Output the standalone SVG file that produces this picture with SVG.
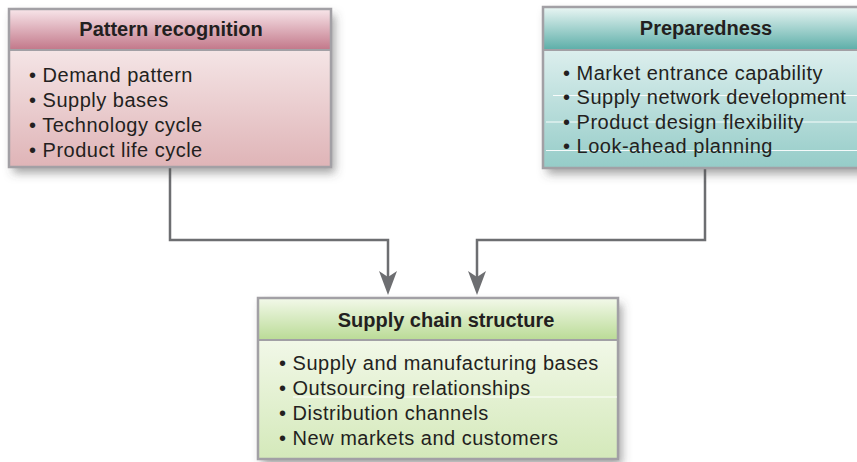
<svg xmlns="http://www.w3.org/2000/svg" width="857" height="462" viewBox="0 0 857 462">
  <style>
    .title { font-family: "Liberation Sans", Arial, sans-serif; font-weight: bold; font-size: 20px; fill: #231f20; text-anchor: middle; }
    .item { font-family: "Liberation Sans", Arial, sans-serif; font-size: 20px; fill: #231f20; letter-spacing: 0.5px; }
    .frame { fill: none; stroke: #a2a0a5; stroke-width: 2.5; }
    .sep { stroke: #a2a0a5; stroke-width: 2; }
    .conn { fill: none; stroke: #6d6e71; stroke-width: 2.5; }
    .scan { stroke: #ffffff; stroke-width: 1.2; opacity: 0.9; }
  </style>
  <defs>
    <filter id="shadow" x="-10%" y="-10%" width="130%" height="140%">
      <feDropShadow dx="4" dy="6" stdDeviation="5" flood-color="#4a4a4a" flood-opacity="0.5"/>
    </filter>
    <linearGradient id="pinkHead" x1="0" y1="0" x2="0" y2="1">
      <stop offset="0" stop-color="#f8e6ea"/>
      <stop offset="1" stop-color="#c27789"/>
    </linearGradient>
    <linearGradient id="pinkBody" x1="0" y1="0" x2="0" y2="1">
      <stop offset="0" stop-color="#fcf6f6"/>
      <stop offset="1" stop-color="#dfb4b7"/>
    </linearGradient>
    <linearGradient id="tealHead" x1="0" y1="0" x2="0" y2="1">
      <stop offset="0" stop-color="#eaf6f4"/>
      <stop offset="1" stop-color="#5caea8"/>
    </linearGradient>
    <linearGradient id="tealBody" x1="0" y1="0" x2="0" y2="1">
      <stop offset="0" stop-color="#f6fbfb"/>
      <stop offset="1" stop-color="#95ccc8"/>
    </linearGradient>
    <linearGradient id="greenHead" x1="0" y1="0" x2="0" y2="1">
      <stop offset="0" stop-color="#f3f9ea"/>
      <stop offset="1" stop-color="#badb96"/>
    </linearGradient>
    <linearGradient id="greenBody" x1="0" y1="0" x2="0" y2="1">
      <stop offset="0" stop-color="#fcfdf8"/>
      <stop offset="1" stop-color="#d4e9ba"/>
    </linearGradient>
    <marker id="arrow" viewBox="0 0 24 18" refX="19" refY="9" markerWidth="24" markerHeight="18" markerUnits="userSpaceOnUse" orient="auto">
      <path d="M0,0 L24,9 L0,18 L6,9 Z" fill="#6d6e71"/>
    </marker>
  </defs>

  <g id="connectors">
    <polyline class="conn" points="170,168 170,240 388,240 388,290" marker-end="url(#arrow)"/>
    <polyline class="conn" points="705,168 705,240 477,240 477,290" marker-end="url(#arrow)"/>
  </g>

  <g id="node-pattern">
    <g filter="url(#shadow)">
      <rect x="9" y="9" width="322" height="158" fill="url(#pinkBody)"/>
    </g>
    <rect x="9" y="9" width="322" height="41" fill="url(#pinkHead)"/>
    <line class="sep" x1="9" y1="50" x2="331" y2="50"/>
    <rect class="frame" x="9" y="9" width="322" height="158"/>
    <text class="title" x="171" y="36">Pattern recognition</text>
    <text class="item" x="29" y="82">• Demand pattern</text>
    <text class="item" x="29" y="107">• Supply bases</text>
    <text class="item" x="29" y="132">• Technology cycle</text>
    <text class="item" x="29" y="157">• Product life cycle</text>
  </g>

  <g id="node-preparedness">
    <g filter="url(#shadow)">
      <rect x="543" y="7" width="330" height="161" fill="url(#tealBody)"/>
    </g>
    <rect x="543" y="7" width="330" height="43" fill="url(#tealHead)"/>
    <line class="sep" x1="543" y1="50" x2="873" y2="50"/>
    <rect class="frame" x="543" y="7" width="330" height="161"/>
    <line class="scan" x1="553" y1="95.5" x2="857" y2="95.5"/>
    <line class="scan" x1="546" y1="122" x2="857" y2="122"/>
    <line class="scan" x1="546" y1="150.5" x2="857" y2="150.5"/>
    <text class="title" x="706" y="35">Preparedness</text>
    <text class="item" x="563" y="80">• Market entrance capability</text>
    <text class="item" x="563" y="104">• Supply network development</text>
    <text class="item" x="563" y="128.5">• Product design flexibility</text>
    <text class="item" x="563" y="153">• Look-ahead planning</text>
  </g>

  <g id="node-supply">
    <g filter="url(#shadow)">
      <rect x="258" y="298" width="360" height="161" fill="url(#greenBody)"/>
    </g>
    <rect x="258" y="298" width="360" height="42" fill="url(#greenHead)"/>
    <line class="sep" x1="258" y1="340" x2="618" y2="340"/>
    <rect class="frame" x="258" y="298" width="360" height="161"/>
    <line class="scan" x1="293" y1="397" x2="617" y2="397"/>
    <text class="title" x="446" y="327">Supply chain structure</text>
    <text class="item" x="279" y="370">• Supply and manufacturing bases</text>
    <text class="item" x="279" y="395">• Outsourcing relationships</text>
    <text class="item" x="279" y="420">• Distribution channels</text>
    <text class="item" x="279" y="445">• New markets and customers</text>
  </g>
</svg>
